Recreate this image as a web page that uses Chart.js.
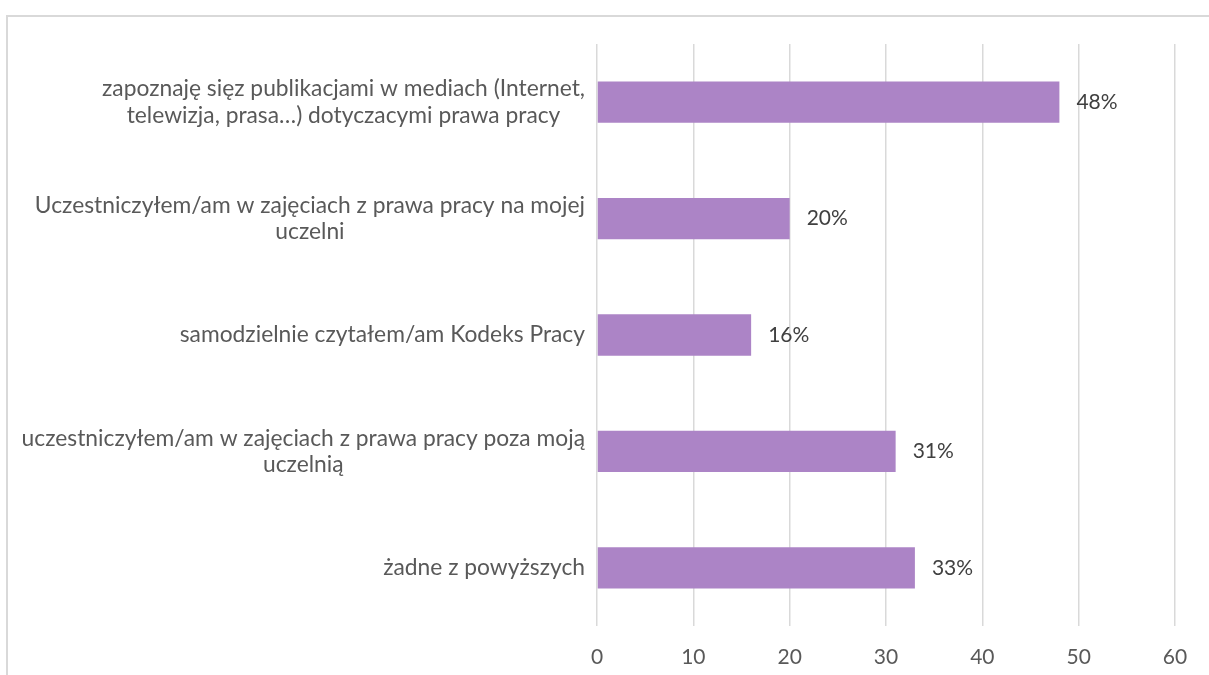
<!DOCTYPE html>
<html>
<head>
<meta charset="utf-8">
<script src="https://cdn.jsdelivr.net/npm/chart.js@4/dist/chart.umd.min.js"></script>
<style>
  html, body { margin: 0; padding: 0; background: #fff; }
  #wrap { position: relative; width: 1209px; height: 675px; overflow: hidden; }
  #frame { position: absolute; left: 6px; top: 15px; width: 1300px; height: 800px; border-top: 2px solid #d9d9d9; border-left: 2px solid #d9d9d9; }
  canvas { position: absolute; left: 0; top: 0; }
</style>
</head>
<body>
<div id="wrap">
  <div id="frame"></div>
  <canvas id="c" width="1209" height="675"></canvas>
</div>
<script>
const categories = [
  ["zapoznaję sięz publikacjami w mediach (Internet,", "telewizja, prasa…) dotyczacymi prawa pracy"],
  ["Uczestniczyłem/am w zajęciach z prawa pracy na mojej", "uczelni"],
  ["samodzielnie czytałem/am Kodeks Pracy"],
  ["uczestniczyłem/am w zajęciach z prawa pracy poza moją", "uczelnią"],
  ["żadne z powyższych"]
];
const values = [48, 20, 16, 31, 33];
const xTicks = [0, 10, 20, 30, 40, 50, 60];

const FONT = "Lato, 'Open Sans', sans-serif";
const LABEL_FS = 22.8;
const VALUE_FS = 21;
const TICK_FS = 21;

const labelPlugin = {
  id: 'labels',
  afterDraw(chart) {
    const ctx = chart.ctx;
    const y = chart.scales.y;
    const left = chart.chartArea.left;
    ctx.save();
    ctx.font = LABEL_FS + "px " + FONT;
    ctx.fillStyle = '#595959';
    ctx.textBaseline = 'middle';
    ctx.textAlign = 'center';
    const lh = 26.5;
    categories.forEach((lines, i) => {
      const cy = y.getPixelForTick(i);
      const widths = lines.map(l => ctx.measureText(l).width);
      const maxW = Math.max(...widths);
      const cx = left - 12 - maxW / 2;
      const y0 = cy - (lines.length - 1) * lh / 2;
      lines.forEach((l, k) => ctx.fillText(l, cx, y0 + k * lh));
    });
    // data labels
    const meta = chart.getDatasetMeta(0);
    ctx.font = VALUE_FS + "px " + FONT;
    ctx.fillStyle = '#404040';
    ctx.textAlign = 'left';
    meta.data.forEach((bar, i) => {
      ctx.fillText(values[i] + '%', bar.x + 17, bar.y);
    });
    ctx.restore();
  }
};

new Chart(document.getElementById('c'), {
  type: 'bar',
  data: {
    labels: categories,
    datasets: [{
      data: values,
      backgroundColor: '#ac84c6',
      borderWidth: 0,
      categoryPercentage: 1,
      barPercentage: 0.355
    }]
  },
  options: {
    indexAxis: 'y',
    responsive: false,
    animation: false,
    devicePixelRatio: 1,
    layout: { padding: { top: 44, right: 34, bottom: 0, left: 0 } },
    plugins: { legend: { display: false }, tooltip: { enabled: false } },
    scales: {
      x: {
        min: 0, max: 60,
        afterBuildTicks: s => { s.ticks = xTicks.map(v => ({ value: v })); },
        afterFit: s => { s.height = 49; },
        grid: { color: '#d9d9d9', lineWidth: 1.5, drawTicks: false },
        border: { display: false },
        ticks: { color: '#595959', font: { family: FONT, size: TICK_FS }, padding: 19 }
      },
      y: {
        afterFit: s => { s.width = 597; },
        grid: { display: false },
        border: { display: false },
        ticks: { display: false }
      }
    }
  },
  plugins: [labelPlugin]
});
</script>
</body>
</html>
